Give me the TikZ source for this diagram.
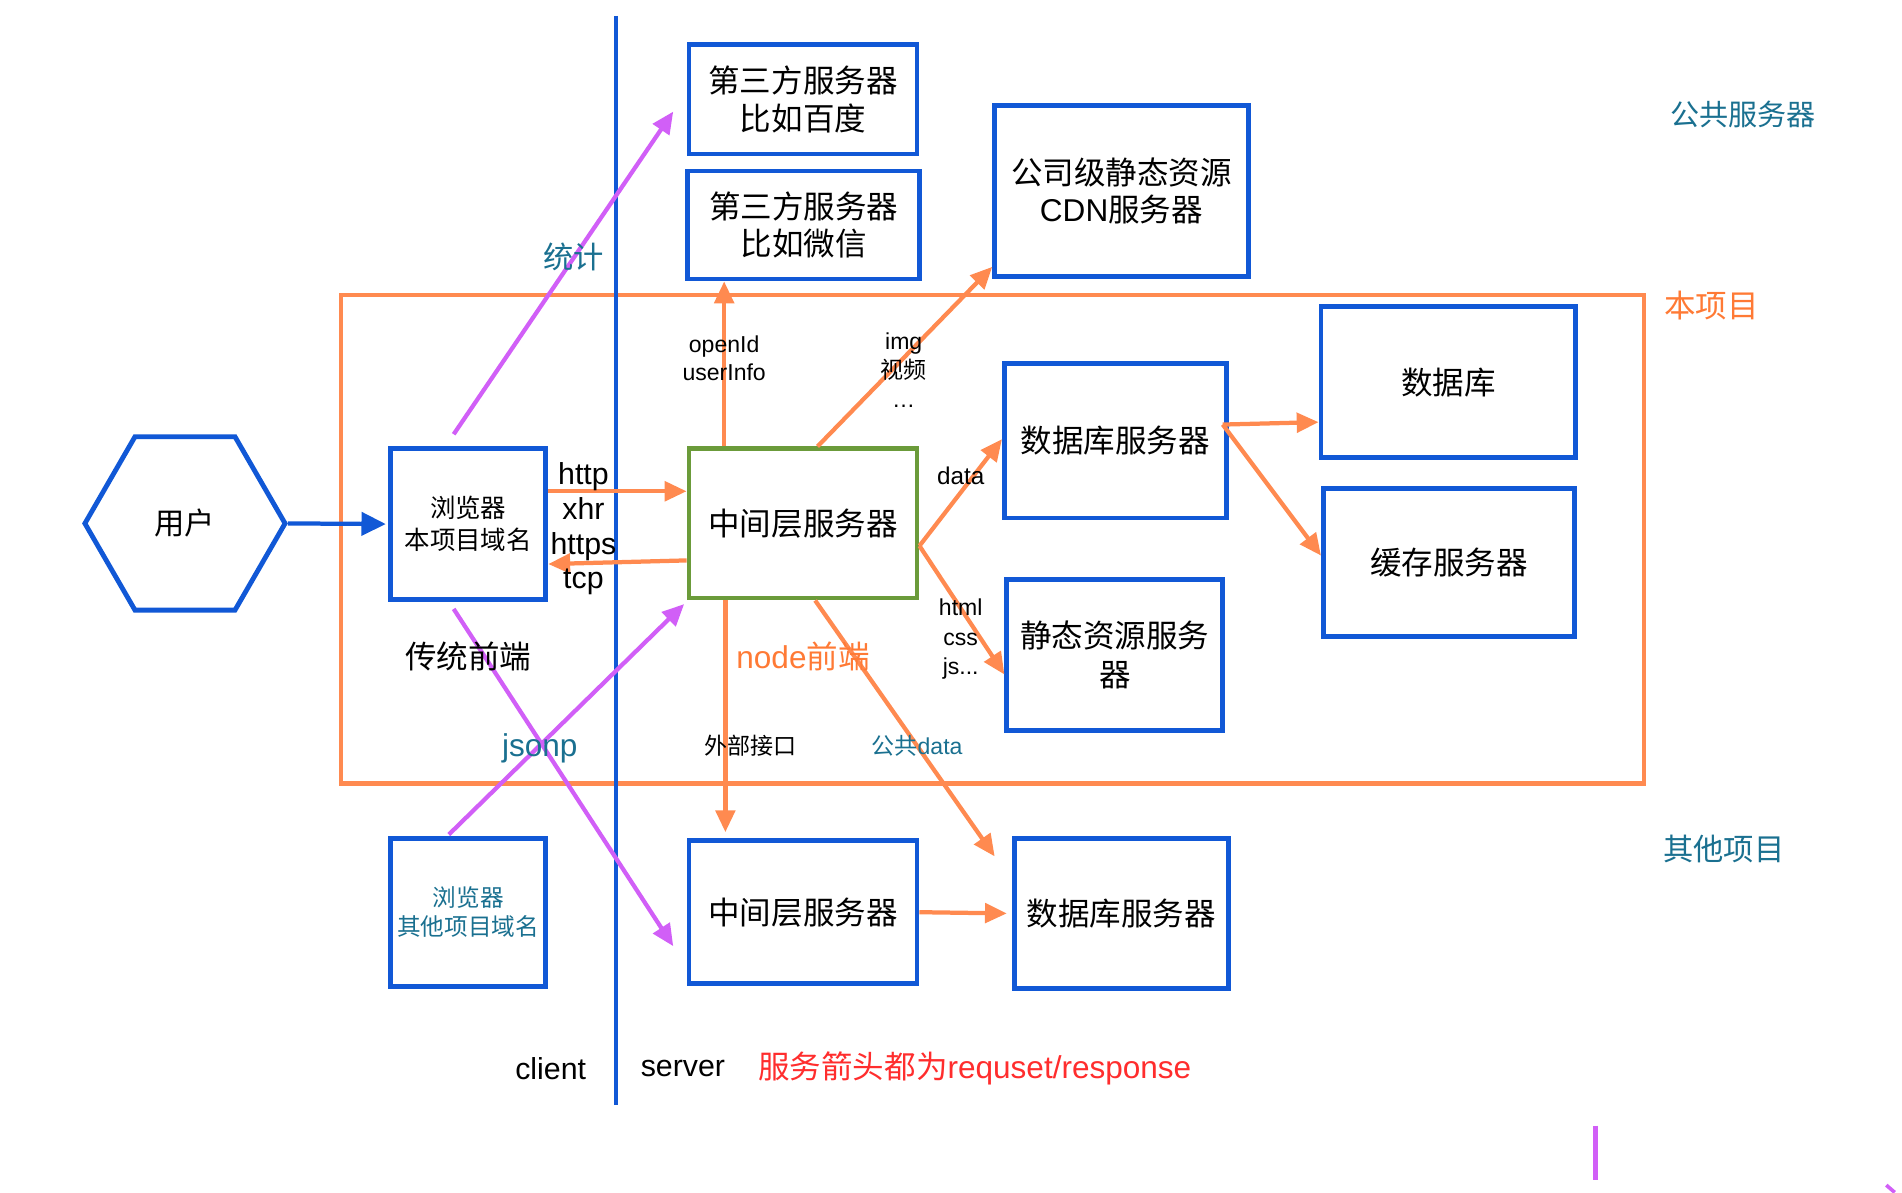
\documentclass[tikz,border=0pt]{standalone}
\usepackage{fontspec}
\setmainfont{Liberation Sans}
\newfontfamily\cjk{Noto Sans CJK SC}
\usetikzlibrary{arrows.meta,shapes.geometric}
\definecolor{cblue}{HTML}{1158D6}
\definecolor{corange}{HTML}{FF8A50}
\definecolor{ctxtorange}{HTML}{FF7A35}
\definecolor{cgreen}{HTML}{6B9B3A}
\definecolor{cpurple}{HTML}{D15FF7}
\definecolor{cteal}{HTML}{1A7090}
\definecolor{cred}{HTML}{FF2D2D}
\begin{document}
\begin{tikzpicture}[x=1pt,y=-1pt,
  box/.style={draw=cblue, line width=4pt, inner sep=0pt, align=center, text=black},
  cj/.style 2 args={font=\cjk\fontsize{#1}{#2}\selectfont, inner sep=0pt, align=center},
  la/.style 2 args={font=\rmfamily\fontsize{#1}{#2}\selectfont, inner sep=0pt, align=center},
  oarr/.style={draw=corange, line width=3.5pt, -{Triangle[length=18pt,width=16pt]}},
  parr/.style={draw=cpurple, line width=3.5pt, -{Triangle[length=18pt,width=16pt]}},
  barr/.style={draw=cblue, line width=3.5pt, -{Triangle[length=20pt,width=19pt]}}
]
\useasboundingbox (0,0) rectangle (1568,983);

% regions
\node[draw=corange, line width=3.5pt, minimum width=1074pt, minimum height=403pt, inner sep=0pt] (frame) at (818,444.5) {};
\coordinate (vtop) at (508,13);
\coordinate (vbot) at (508,911);
\draw[cblue, line width=3.5pt] (vtop) -- (vbot);

% boxes
\node[box, cj={26}{31}, minimum width=188pt, minimum height=90pt] (baidu) at (662,82) {第三方服务器\\比如百度};
\node[box, cj={26}{31}, minimum width=191pt, minimum height=89pt] (weixin) at (662.5,185.5) {第三方服务器\\比如微信};
\node[box, cj={26}{31}, minimum width=209pt, minimum height=141pt] (cdn) at (924.5,157.5) {公司级静态资源\\{\rmfamily CDN}服务器};
\node[box, cj={26}{31}, minimum width=210pt, minimum height=124pt] (db) at (1194,315) {数据库};
\node[box, cj={26}{31}, minimum width=207pt, minimum height=122pt] (cache) at (1194.5,464) {缓存服务器};
\node[box, cj={26}{31}, minimum width=183pt, minimum height=127pt] (dbs) at (919.5,363.5) {数据库服务器};
\node[box, cj={26}{32}, minimum width=178pt, minimum height=124pt] (static) at (919,540) {静态资源服务\\器};
\node[box, draw=cgreen, cj={26}{31}, minimum width=188pt, minimum height=123pt] (mid) at (662,431.5) {中间层服务器};
\node[box, cj={21}{26}, minimum width=128pt, minimum height=124pt] (browser) at (386,432) {浏览器\\本项目域名};
\node[box, cj={19.5}{24}, text=cteal, minimum width=128pt, minimum height=122pt] (browser2) at (386,752) {浏览器\\其他项目域名};
\node[box, cj={26}{31}, minimum width=188pt, minimum height=118pt] (mid2) at (662,752) {中间层服务器};
\node[box, cj={26}{31}, minimum width=177pt, minimum height=124pt] (dbs2) at (924.5,753) {数据库服务器};
\node[draw=cblue, line width=4pt, regular polygon, regular polygon sides=6, minimum size=165pt, inner sep=0pt, cj={25}{30}] (user) at (152.5,431.5) {用户};

% connectors
\draw[barr] (user.east) -- ([xshift=-2pt]browser.west);
\draw[oarr] ([yshift=27pt]browser.east) -- ([yshift=26.5pt]mid.west);
\draw[oarr] ([yshift=-30.5pt]mid.west) -- ([yshift=-33pt]browser.east);
\draw[parr] ([xshift=-12pt,yshift=10pt]browser.north) -- ([xshift=-11pt,yshift=-10pt]baidu.west);
\draw[parr] ([xshift=-12pt,yshift=-6pt]browser.south) -- ([xshift=-11pt,yshift=-28pt]mid2.west);
\draw[parr] ([xshift=-16pt,yshift=1pt]browser2.north) -- ([xshift=-2pt,yshift=-3pt]mid.south west);
\draw[oarr] ([xshift=-65pt]mid.north) -- ([xshift=-65.5pt]weixin.south);
\draw[oarr] ([xshift=12pt]mid.north) -- ([yshift=-62.5pt]cdn.west);
\draw[oarr] ([yshift=-18.5pt]mid.east) -- ([yshift=1.5pt]dbs.west);
\draw[oarr] ([yshift=-18.5pt]mid.east) -- ([yshift=-16pt]static.west);
\draw[oarr] ([xshift=-64pt]mid.south) -- ([xshift=-64pt,yshift=5pt]mid2.north);
\draw[oarr] ([xshift=10pt]mid.south) -- ([xshift=-14pt,yshift=-17pt]dbs2.north west);
\draw[oarr] ([xshift=-5pt,yshift=13.5pt]dbs.east) -- ([yshift=-33pt]db.west);
\draw[oarr] ([xshift=-5pt,yshift=13.5pt]dbs.east) -- ([yshift=6pt]cache.west);
\draw[oarr] (mid2.east) -- ([xshift=-4pt]dbs2.west);

% labels
\node[cj={25}{30}, text=cteal] (ltongji) at (473,212) {统计};
\node[cj={24}{29}, text=cteal] (lpublic) at (1437,94) {公共服务器};
\node[cj={26}{31}, text=ctxtorange] (lthis) at (1411,252) {本项目};
\node[cj={25}{30}, text=cteal] (lother) at (1421,700) {其他项目};
\node[cj={26}{31}] (ltrad) at (386,541) {传统前端};
\node[cj={26}{31}, text=ctxtorange] (lnode) at (662,541) {{\rmfamily node}前端};
\node[la={26}{31}, text=cteal] (ljsonp) at (445,617) {jsonp};
\node[cj={19}{23}] (lext) at (619,615) {外部接口};
\node[cj={19}{23}, text=cteal] (lpubdata) at (756,615) {公共{\rmfamily data}};
\node[la={19}{23}] (lopen) at (597,295) {openId\\userInfo};
\node[la={19}{24}] (limg) at (745,305) {img\\{\cjk 视频}\\…};
\node[la={20}{24}] (ldata) at (792,392) {data};
\node[la={19}{24.5}] (lhtml) at (792,527) {html\\css\\js...};
\node[la={25}{28.5}] (lhttp) at (481,436) {http\\xhr\\https\\tcp};
\node[la={25}{30}] (lclient) at (454,881) {client};
\node[la={25}{30}] (lserver) at (563,881) {server};
\node[cj={26}{31}, text=cred, anchor=west] (lnote) at (625,881) {服务箭头都为{\rmfamily requset/response}};

% stray marks at the lower edge
\draw[cpurple, line width=4pt] (1315,928) -- (1315,973);
\draw[cpurple, line width=3pt] (1555,977) -- (1562,983);
\end{tikzpicture}
\end{document}
